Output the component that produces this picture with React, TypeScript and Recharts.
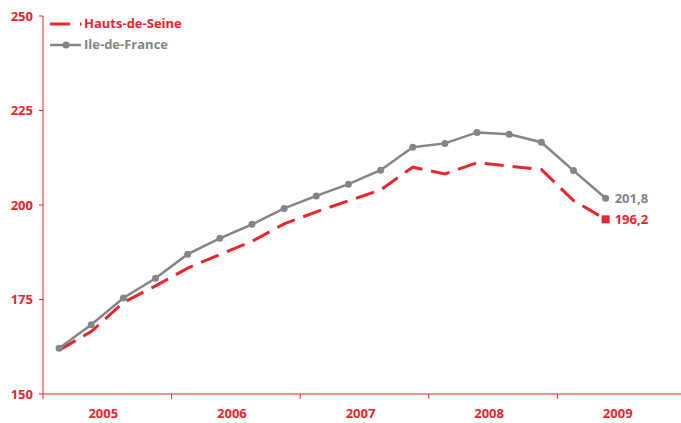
import React from 'react';
import { LineChart, Line, XAxis, YAxis } from 'recharts';

const years = ['2005', '2006', '2007', '2008', '2009'];
const seriesNames = ['Hauts-de-Seine', 'Ile-de-France'];
const hautsDeSeine = [161.6, 166.5, 174.2, 178.6, 183.3, 186.9, 190.4, 195.0, 198.2, 201.1, 204.0, 210.0, 208.2, 211.2, 210.3, 209.4, 201.2, 196.2];
const ileDeFrance = [162.1, 168.3, 175.4, 180.6, 187.0, 191.2, 194.9, 199.1, 202.4, 205.5, 209.2, 215.3, 216.3, 219.2, 218.7, 216.6, 209.1, 201.8];
const endLabels = ['196,2', '201,8'];
const yTicks = [150, 175, 200, 225, 250];

const RED = '#e8262d';
const GREY = '#858585';
const FONT = '"Open Sans", sans-serif';

const data = hautsDeSeine.map((v, i) => ({ x: i + 0.5, hds: v, idf: ileDeFrance[i] }));
const last = data.length - 1;

const XTick = (props: any) => {
  const { x, y, payload } = props;
  const v = payload.value;
  if (v % 4 === 0) {
    return <line x1={x} x2={x} y1={y} y2={y + 5} stroke={RED} strokeWidth={1} />;
  }
  const idx = (v - 2) / 4;
  return (
    <text x={x - 4} y={y + 21} textAnchor="middle" dominantBaseline="middle" fill={RED} fontFamily={FONT} fontWeight={700} fontSize={13}>
      {years[idx]}
    </text>
  );
};

const RedDot = (props: any) => {
  const { cx, cy, index } = props;
  if (index !== last) return <g key={index} />;
  return <rect key={index} x={cx - 4} y={cy - 4} width={8} height={8} fill={RED} />;
};

const makeLabel = (text: string, color: string) => (props: any) => {
  const { x, y, index } = props;
  if (index !== last) return <g key={index} />;
  return (
    <text key={index} x={x + 9} y={y + 1} dominantBaseline="middle" fill={color} fontFamily={FONT} fontWeight={700} fontSize={13}>
      {text}
    </text>
  );
};

export default function App() {
  return (
    <div style={{ position: 'absolute', left: 0, top: 0, width: 681, height: 423, overflow: 'hidden', background: '#fff' }}>
      <LineChart width={700} height={423} data={data} margin={{ top: 16, right: 14, bottom: 0, left: 0 }}>
        <XAxis
          dataKey="x"
          type="number"
          domain={[0, 20]}
          ticks={[0, 2, 4, 6, 8, 10, 12, 14, 16, 18, 20]}
          interval={0}
          tick={<XTick />}
          tickLine={false}
          tickSize={0}
          tickMargin={0}
          axisLine={{ stroke: RED, strokeWidth: 1 }}
          height={29}
          allowDataOverflow
        />
        <YAxis
          type="number"
          domain={[150, 250]}
          ticks={yTicks}
          interval={0}
          width={43}
          tickSize={4}
          tickMargin={6}
          axisLine={{ stroke: RED, strokeWidth: 1 }}
          tickLine={{ stroke: RED, strokeWidth: 1 }}
          tick={{ fill: RED, fontFamily: FONT, fontWeight: 700, fontSize: 13 }}
        />
        <Line
          type="linear"
          dataKey="hds"
          stroke={RED}
          strokeWidth={3}
          strokeDasharray="19 9"
          dot={<RedDot />}
          activeDot={false}
          label={makeLabel(endLabels[0], RED)}
          isAnimationActive={false}
        />
        <Line
          type="linear"
          dataKey="idf"
          stroke={GREY}
          strokeWidth={2.5}
          dot={{ r: 3.5, fill: GREY, stroke: GREY, strokeWidth: 0 }}
          activeDot={false}
          label={makeLabel(endLabels[1], GREY)}
          isAnimationActive={false}
        />
      </LineChart>
      <svg width={220} height={60} style={{ position: 'absolute', left: 0, top: 0 }}>
        <line x1={50} x2={70} y1={24} y2={24} stroke={RED} strokeWidth={3} />
        <line x1={80} x2={81.5} y1={24} y2={24} stroke={RED} strokeWidth={3} />
        <text x={84} y={25} dominantBaseline="middle" fill={RED} fontFamily={FONT} fontWeight={700} fontSize={13}>
          {seriesNames[0]}
        </text>
        <line x1={50} x2={81} y1={45} y2={45} stroke={GREY} strokeWidth={2.5} />
        <circle cx={66} cy={45} r={3.5} fill={GREY} />
        <text x={84} y={46} dominantBaseline="middle" fill={GREY} fontFamily={FONT} fontWeight={700} fontSize={13}>
          {seriesNames[1]}
        </text>
      </svg>
    </div>
  );
}
